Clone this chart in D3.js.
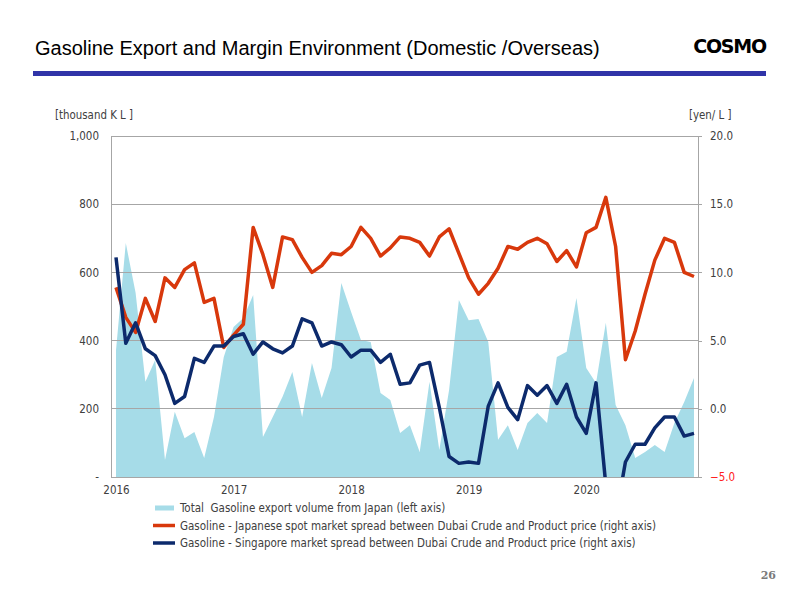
<!DOCTYPE html>
<html>
<head>
<meta charset="utf-8">
<script src="https://cdn.jsdelivr.net/npm/d3@7"></script>
<style>
  html, body { margin: 0; padding: 0; background: #fff; }
  svg { display: block; }
  text { white-space: pre; }
</style>
</head>
<body>
<svg id="chart" width="800" height="600"></svg>
<script>
// ---- Data (monthly, Jan 2016 - Dec 2020) ----
const yearLabels = ["2016", "2017", "2018", "2019", "2020"];
const exportVolume = [
  372, 686, 540, 279, 343, 50, 191, 114, 132, 56, 176, 352,
  440, 466, 534, 117, 176, 235, 308, 176, 334, 232, 320, 569,
  484, 402, 396, 246, 226, 129, 152, 73, 279, 79, 255, 519,
  460, 463, 396, 109, 152, 79, 158, 188, 158, 352, 367, 525,
  320, 276, 452, 211, 152, 56, 73, 94, 73, 158, 220, 290
];
const japanSpread = [
  8.9, 6.7, 5.6, 8.1, 6.4, 9.6, 8.9, 10.2, 10.7, 7.8, 8.1, 4.5,
  5.4, 6.2, 13.3, 11.3, 8.9, 12.6, 12.4, 11.1, 10.0, 10.5, 11.4, 11.3,
  11.9, 13.3, 12.5, 11.2, 11.8, 12.6, 12.5, 12.2, 11.2, 12.6, 13.2, 11.4,
  9.6, 8.4, 9.2, 10.3, 11.9, 11.7, 12.2, 12.5, 12.1, 10.8, 11.6, 10.4,
  12.9, 13.3, 15.5, 11.9, 3.6, 5.7, 8.4, 10.9, 12.5, 12.2, 10.0, 9.7
];
const singaporeSpread = [
  11.1, 4.8, 6.3, 4.4, 3.9, 2.5, 0.4, 0.9, 3.7, 3.4, 4.6, 4.6,
  5.3, 5.5, 4.0, 4.9, 4.4, 4.1, 4.6, 6.6, 6.3, 4.6, 4.9, 4.7,
  3.8, 4.3, 4.3, 3.4, 4.0, 1.8, 1.9, 3.2, 3.4, 0.1, -3.5, -4.0,
  -3.9, -4.0, 0.2, 1.9, 0.1, -0.8, 1.7, 1.0, 1.7, 0.4, 1.8, -0.6,
  -1.8, 1.9, -5.6, -8.0, -3.9, -2.6, -2.6, -1.4, -0.6, -0.6, -2.0, -1.8
];
const leftTicks = [0, 200, 400, 600, 800, 1000];
const rightTicks = [-5, 0, 5, 10, 15, 20];
const legendLabels = [
  "Total  Gasoline export volume from Japan (left axis)",
  "Gasoline - Japanese spot market spread between Dubai Crude and Product price (right axis)",
  "Gasoline - Singapore market spread between Dubai Crude and Product price (right axis)"
];

// ---- Layout ----
const svg = d3.select("#chart");
const plot = { left: 111, right: 698, top: 136, bottom: 477 };
const colors = { area: "#a6dce8", red: "#d8380c", navy: "#0c2a6c", grid: "#a6a6a6", text: "#404040" };
const tickFont = "'DejaVu Sans Condensed', 'DejaVu Sans', Verdana, sans-serif";

const x = d3.scaleLinear().domain([0, 59]).range([116, 694]);
const yL = d3.scaleLinear().domain([0, 1000]).range([plot.bottom, plot.top]);
const yR = d3.scaleLinear().domain([-5, 20]).range([plot.bottom, plot.top]);

// ---- Header ----
svg.append("text")
  .attr("x", 35).attr("y", 55)
  .attr("font-family", "'Liberation Sans', Arial, sans-serif")
  .attr("font-size", 20)
  .attr("fill", "#000")
  .text("Gasoline Export and Margin Environment (Domestic /Overseas)");

svg.append("text")
  .attr("x", 766).attr("y", 53)
  .attr("text-anchor", "end")
  .attr("font-family", "'DejaVu Sans', sans-serif")
  .attr("font-weight", "bold")
  .attr("font-size", 19)
  .attr("letter-spacing", -1.2)
  .attr("fill", "#000")
  .text("COSMO");

svg.append("rect")
  .attr("x", 33).attr("y", 71).attr("width", 733).attr("height", 5)
  .attr("fill", "#3034a8");

// ---- Units ----
svg.append("text")
  .attr("x", 55).attr("y", 119)
  .attr("font-family", tickFont).attr("font-size", 11.4).attr("fill", colors.text)
  .text("[thousand K L ]");
svg.append("text")
  .attr("x", 689).attr("y", 119)
  .attr("font-family", tickFont).attr("font-size", 11.4).attr("fill", colors.text)
  .text("[yen/ L ]");

// ---- Area (left axis) ----
const area = d3.area()
  .x((d, i) => x(i))
  .y0(yL(0))
  .y1(d => yL(d));
svg.append("path")
  .datum(exportVolume)
  .attr("d", area)
  .attr("fill", colors.area);

// ---- Gridlines ----
const grid = svg.append("g");
grid.selectAll("line")
  .data(leftTicks.filter(d => d > 0))
  .join("line")
  .attr("x1", plot.left).attr("x2", plot.right)
  .attr("y1", d => yL(d)).attr("y2", d => yL(d))
  .attr("stroke", colors.grid).attr("stroke-width", 1)
  .attr("shape-rendering", "crispEdges");

// ---- Left axis ----
const leftAxis = svg.append("g")
  .attr("transform", `translate(${plot.left},0)`)
  .call(d3.axisLeft(yL).tickValues(leftTicks).tickSize(0).tickPadding(12)
    .tickFormat(d => d === 0 ? "-" : d3.format(",")(d)));
leftAxis.select(".domain").attr("stroke", colors.grid).attr("shape-rendering", "crispEdges");
leftAxis.selectAll("text").attr("font-family", tickFont).attr("font-size", 11.5).attr("fill", colors.text);

// ---- Right axis ----
const rightAxis = svg.append("g")
  .attr("transform", `translate(${plot.right},0)`)
  .call(d3.axisRight(yR).tickValues(rightTicks).tickSize(4).tickPadding(8)
    .tickFormat(d3.format(".1f")));
rightAxis.select(".domain").attr("stroke", colors.grid).attr("shape-rendering", "crispEdges");
rightAxis.selectAll("line").attr("stroke", colors.grid).attr("shape-rendering", "crispEdges");
rightAxis.selectAll("text")
  .attr("font-family", tickFont).attr("font-size", 11.5)
  .attr("fill", d => d < 0 ? "#ff2020" : colors.text);

// ---- Bottom axis ----
const bottomAxis = svg.append("g")
  .attr("transform", `translate(0,${plot.bottom})`)
  .call(d3.axisBottom(x).tickValues(yearLabels.map((_, i) => i * 12)).tickSize(0).tickPadding(9)
    .tickFormat((d, i) => yearLabels[i]));
bottomAxis.select(".domain").remove();
bottomAxis.selectAll("text").attr("font-family", tickFont).attr("font-size", 11.5).attr("fill", colors.text);
svg.append("line")
  .attr("x1", plot.left).attr("x2", plot.right)
  .attr("y1", plot.bottom).attr("y2", plot.bottom)
  .attr("stroke", colors.grid).attr("shape-rendering", "crispEdges");

// ---- Lines (right axis), clipped to plot ----
svg.append("clipPath").attr("id", "plotclip")
  .append("rect")
  .attr("x", plot.left).attr("y", plot.top)
  .attr("width", plot.right - plot.left).attr("height", plot.bottom - plot.top);

const line = d3.line().x((d, i) => x(i)).y(d => yR(d));
const lines = svg.append("g").attr("clip-path", "url(#plotclip)");
lines.append("path").datum(japanSpread).attr("d", line)
  .attr("fill", "none").attr("stroke", colors.red).attr("stroke-width", 3.5)
  .attr("stroke-linejoin", "round");
lines.append("path").datum(singaporeSpread).attr("d", line)
  .attr("fill", "none").attr("stroke", colors.navy).attr("stroke-width", 3.5)
  .attr("stroke-linejoin", "round");

// ---- Legend ----
const legend = svg.append("g");
const legendY = [508, 525.5, 543];
const legendStyles = [
  { type: "area", color: colors.area },
  { type: "line", color: colors.red },
  { type: "line", color: colors.navy }
];
legendLabels.forEach((lab, i) => {
  const st = legendStyles[i];
  if (st.type === "area") {
    legend.append("rect").attr("x", 155).attr("y", legendY[i] - 2.5)
      .attr("width", 19).attr("height", 5).attr("fill", st.color);
  } else {
    legend.append("line").attr("x1", 153).attr("x2", 175)
      .attr("y1", legendY[i]).attr("y2", legendY[i])
      .attr("stroke", st.color).attr("stroke-width", 3.5);
  }
  legend.append("text")
    .attr("x", 180).attr("y", legendY[i]).attr("dy", "0.35em")
    .attr("font-family", tickFont).attr("font-size", 11.5)
    .attr("fill", colors.text)
    .text(lab);
});

// ---- Page number ----
svg.append("text")
  .attr("x", 776).attr("y", 579)
  .attr("text-anchor", "end")
  .attr("font-family", "'DejaVu Serif', 'Liberation Serif', serif")
  .attr("font-weight", "bold")
  .attr("font-size", 11)
  .attr("fill", "#7a7a7a")
  .text("26");
</script>
</body>
</html>
